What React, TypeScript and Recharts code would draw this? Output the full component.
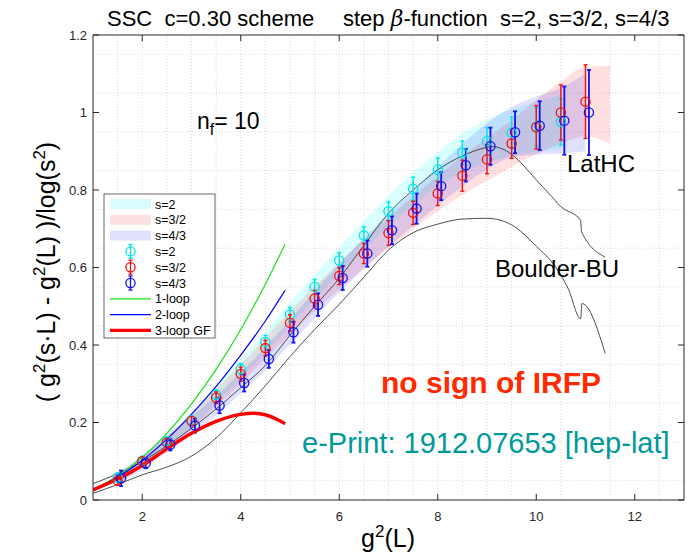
import React from 'react';
import { ComposedChart, Line, Area, Scatter, ErrorBar, XAxis, YAxis, CartesianGrid } from 'recharts';

// ---------- data ----------
const bandX = [1.5, 2, 2.5, 3, 3.5, 4, 4.5, 5, 5.5, 6, 6.5, 7, 7.5, 8, 8.5, 9, 9.5, 10, 10.5, 11, 11.5];
const bandS2Lo = [0.046, 0.086, 0.134, 0.186, 0.25, 0.313, 0.381, 0.449, 0.518, 0.583, 0.646, 0.705, 0.761, 0.808, 0.846, 0.871, 0.888, 0.898, 0.906];
const bandS2Hi = [0.07, 0.116, 0.17, 0.226, 0.294, 0.363, 0.435, 0.509, 0.582, 0.653, 0.72, 0.785, 0.845, 0.898, 0.946, 0.981, 1.008, 1.028, 1.046];
const bandS32Lo = [0.038, 0.085, 0.13, 0.184, 0.242, 0.3, 0.365, 0.427, 0.488, 0.543, 0.599, 0.649, 0.699, 0.746, 0.787, 0.824, 0.86, 0.892, 0.92, 0.938, 0.92];
const bandS32Hi = [0.062, 0.115, 0.166, 0.224, 0.286, 0.35, 0.419, 0.487, 0.552, 0.613, 0.673, 0.729, 0.783, 0.836, 0.887, 0.934, 0.98, 1.032, 1.08, 1.118, 1.12];
const bandS43Lo = [0.042, 0.078, 0.123, 0.17, 0.219, 0.275, 0.334, 0.401, 0.469, 0.536, 0.596, 0.654, 0.707, 0.76, 0.809, 0.853, 0.884, 0.891, 0.894, 0.9];
const bandS43Hi = [0.07, 0.112, 0.163, 0.214, 0.269, 0.329, 0.394, 0.465, 0.539, 0.61, 0.676, 0.738, 0.797, 0.86, 0.919, 0.973, 1.014, 1.041, 1.064, 1.1];

const ptS2X = [1.5, 2, 2.5, 3, 3.5, 4, 4.5, 5, 5.5, 6, 6.5, 7, 7.5, 8, 8.5, 9, 9.5, 10, 10.5];
const ptS2Y = [0.058, 0.101, 0.152, 0.206, 0.272, 0.338, 0.408, 0.479, 0.55, 0.618, 0.683, 0.745, 0.803, 0.853, 0.896, 0.926, 0.948, 0.963, 0.976];
const ptS2E = [0.012, 0.01, 0.01, 0.01, 0.012, 0.014, 0.017, 0.018, 0.019, 0.02, 0.022, 0.024, 0.03, 0.03, 0.03, 0.035, 0.04, 0.05, 0.06];

const ptS32X = [1.5, 2, 2.5, 3, 3.5, 4, 4.5, 5, 5.5, 6, 6.5, 7, 7.5, 8, 8.5, 9, 9.5, 10, 10.5, 11];
const ptS32Y = [0.05, 0.1, 0.148, 0.204, 0.264, 0.325, 0.392, 0.457, 0.52, 0.578, 0.636, 0.689, 0.741, 0.791, 0.837, 0.879, 0.92, 0.962, 1.0, 1.028];
const ptS32E = [0.012, 0.01, 0.011, 0.012, 0.015, 0.018, 0.02, 0.021, 0.021, 0.022, 0.026, 0.032, 0.03, 0.031, 0.04, 0.037, 0.038, 0.056, 0.071, 0.095];

const ptS43X = [1.57, 2.07, 2.57, 3.07, 3.57, 4.07, 4.57, 5.07, 5.57, 6.07, 6.57, 7.07, 7.57, 8.07, 8.57, 9.07, 9.57, 10.07, 10.57, 11.07];
const ptS43Y = [0.056, 0.095, 0.143, 0.192, 0.244, 0.302, 0.364, 0.433, 0.504, 0.573, 0.636, 0.696, 0.752, 0.81, 0.864, 0.913, 0.949, 0.966, 0.979, 1.0];
const ptS43E = [0.02, 0.013, 0.015, 0.018, 0.02, 0.022, 0.023, 0.027, 0.029, 0.031, 0.034, 0.036, 0.039, 0.036, 0.042, 0.048, 0.054, 0.063, 0.088, 0.11];

const loopX = [1, 1.5, 2, 2.5, 3, 3.5, 4, 4.5, 4.9];
const oneLoopY = [0.027, 0.062, 0.11, 0.172, 0.248, 0.337, 0.44, 0.557, 0.66];
const twoLoopY = [0.026, 0.059, 0.102, 0.157, 0.221, 0.293, 0.374, 0.462, 0.541];
const threeLoopX = [1, 1.5, 2, 2.5, 3, 3.5, 4, 4.25, 4.5, 4.75, 4.9];
const threeLoopY = [0.026, 0.054, 0.089, 0.132, 0.172, 0.203, 0.221, 0.224, 0.22, 0.207, 0.197];

const latX = [1, 1.5, 2, 2.5, 3, 3.5, 4, 4.5, 5, 5.5, 6, 6.5, 7, 7.5, 8, 8.5, 9, 9.1, 9.5, 9.75, 10, 10.25, 10.5, 10.9, 10.92, 11.4];
const latY = [0.042, 0.068, 0.1, 0.14, 0.185, 0.235, 0.29, 0.347, 0.425, 0.5, 0.572, 0.657, 0.74, 0.8, 0.852, 0.888, 0.91, 0.912, 0.892, 0.862, 0.826, 0.792, 0.757, 0.722, 0.692, 0.627];
const bouX = [1, 1.5, 2, 2.5, 3, 3.5, 4, 4.5, 5, 5.5, 6, 6.5, 7, 7.5, 8, 8.5, 9, 9.5, 10, 10.4, 10.65, 10.9, 10.93, 11.4];
const bouY = [0.017, 0.04, 0.065, 0.085, 0.113, 0.16, 0.225, 0.295, 0.37, 0.44, 0.505, 0.575, 0.645, 0.69, 0.712, 0.725, 0.727, 0.71, 0.655, 0.6, 0.545, 0.468, 0.507, 0.378];

const xTicks = [2, 4, 6, 8, 10, 12];
const yTicks = [0, 0.2, 0.4, 0.6, 0.8, 1, 1.2];

// ---------- helpers ----------
const pairs = (xs: number[], ys: number[]) => xs.map((x, i) => ({ x, y: ys[i] }));
const pts = (xs: number[], ys: number[], es: number[]) => xs.map((x, i) => ({ x, y: ys[i], e: es[i] }));
const bandRows = bandX.map((x, i) => ({
  x,
  s2: i < bandS2Lo.length ? [bandS2Lo[i], bandS2Hi[i]] : undefined,
  s32: i < bandS32Lo.length ? [bandS32Lo[i], bandS32Hi[i]] : undefined,
  s43: i < bandS43Lo.length ? [bandS43Lo[i], bandS43Hi[i]] : undefined,
}));

const xMinor = Array.from({ length: 23 }, (_, i) => 1.5 + i * 0.5);
const yMinor = Array.from({ length: 23 }, (_, i) => Math.round((0.05 + i * 0.05) * 1000) / 1000);

const C_CYAN = '#00e4e4';
const C_RED = '#f01010';
const C_BLUE = '#1010f0';
const C_GREEN = '#18e018';

const ring = (color: string) => (p: any) => (
  <circle cx={p.cx} cy={p.cy} r={4.6} fill="none" stroke={color} strokeWidth={1.3} />
);

const AX = '#262626';
const tickStyle = { fontSize: 13, fill: AX };

export default function App() {
  const legendRows = [
    { kind: 'band', color: '#d9fcfc', label: 's=2' },
    { kind: 'band', color: '#fde0e0', label: 's=3/2' },
    { kind: 'band', color: '#e1e1fb', label: 's=4/3' },
    { kind: 'pt', color: C_CYAN, label: 's=2' },
    { kind: 'pt', color: C_RED, label: 's=3/2' },
    { kind: 'pt', color: C_BLUE, label: 's=4/3' },
    { kind: 'line', color: C_GREEN, w: 1.2, label: '1-loop' },
    { kind: 'line', color: '#0000ff', w: 1.2, label: '2-loop' },
    { kind: 'line', color: '#ff0000', w: 3.2, label: '3-loop GF' },
  ];
  return (
    <div style={{ position: 'absolute', left: 0, top: 0, width: 695, height: 560, background: '#fff', fontFamily: '"Liberation Sans", Arial, Helvetica, sans-serif' }}>
      <ComposedChart width={695} height={560} data={bandRows} margin={{ top: 34, right: 10, bottom: 30, left: 53 }}>
        <CartesianGrid verticalValues={xMinor} horizontalValues={yMinor} stroke="#cfcfcf" strokeDasharray="1 2" strokeWidth={0.8} />
        <XAxis type="number" dataKey="x" domain={[1, 13]} ticks={xTicks} allowDataOverflow height={30}
          tickSize={-6} tickMargin={18} tick={tickStyle} stroke={AX} tickLine={{ stroke: AX }} axisLine={{ stroke: AX }} />
        <XAxis xAxisId="top" orientation="top" type="number" dataKey="x" domain={[1, 13]} ticks={xTicks} allowDataOverflow height={1}
          tickSize={-6} tickFormatter={() => ''} stroke={AX} />
        <YAxis type="number" domain={[0, 1.2]} ticks={yTicks} allowDataOverflow width={40}
          tickSize={-6} tickMargin={12} tick={tickStyle} stroke={AX} />
        <YAxis yAxisId="right" orientation="right" type="number" domain={[0, 1.2]} ticks={yTicks} allowDataOverflow width={1}
          tickSize={-6} tickFormatter={() => ''} stroke={AX} />

        <Area dataKey="s2" type="monotone" fill="#00ffff" fillOpacity={0.15} stroke="none" isAnimationActive={false} />
        <Area dataKey="s32" type="monotone" fill="#ff0000" fillOpacity={0.12} stroke="none" isAnimationActive={false} />
        <Area dataKey="s43" type="monotone" fill="#0000ff" fillOpacity={0.12} stroke="none" isAnimationActive={false} />

        <Line data={pairs(latX, latY)} dataKey="y" type="monotone" stroke="#3a3a3a" strokeWidth={0.9} dot={false} activeDot={false} isAnimationActive={false} />
        <Line data={pairs(bouX, bouY)} dataKey="y" type="monotone" stroke="#3a3a3a" strokeWidth={0.9} dot={false} activeDot={false} isAnimationActive={false} />

        <Scatter data={pts(ptS2X, ptS2Y, ptS2E)} dataKey="y" shape={ring(C_CYAN)} isAnimationActive={false}>
          <ErrorBar dataKey="e" direction="y" width={2} stroke={C_CYAN} strokeWidth={1.4} />
        </Scatter>
        <Scatter data={pts(ptS32X, ptS32Y, ptS32E)} dataKey="y" shape={ring(C_RED)} isAnimationActive={false}>
          <ErrorBar dataKey="e" direction="y" width={2} stroke={C_RED} strokeWidth={1.4} />
        </Scatter>
        <Scatter data={pts(ptS43X, ptS43Y, ptS43E)} dataKey="y" shape={ring(C_BLUE)} isAnimationActive={false}>
          <ErrorBar dataKey="e" direction="y" width={2} stroke={C_BLUE} strokeWidth={1.8} />
        </Scatter>

        <Line data={pairs(loopX, oneLoopY)} dataKey="y" type="monotone" stroke={C_GREEN} strokeWidth={1.2} dot={false} activeDot={false} isAnimationActive={false} />
        <Line data={pairs(loopX, twoLoopY)} dataKey="y" type="monotone" stroke="#0000ff" strokeWidth={1.2} dot={false} activeDot={false} isAnimationActive={false} />
        <Line data={pairs(threeLoopX, threeLoopY)} dataKey="y" type="monotone" stroke="#ff0000" strokeWidth={3.4} dot={false} activeDot={false} isAnimationActive={false} />
      </ComposedChart>

      <svg width={695} height={560} style={{ position: 'absolute', left: 0, top: 0, pointerEvents: 'none' }}>
        {/* title */}
        <text x={107} y={26} fontSize={22} fill="#000" xmlSpace="preserve">SSC  c=0.30 scheme</text>
        <text x={343} y={26} fontSize={22} fill="#000" xmlSpace="preserve">
          step <tspan fontStyle="italic" fontFamily="'DejaVu Serif', serif">β</tspan>-function  s=2, s=3/2, s=4/3
        </text>

        {/* axis labels */}
        <text x={388} y={547} fontSize={25} fill="#000" textAnchor="middle">
          g<tspan dy={-10} fontSize={17}>2</tspan><tspan dy={10}>(L)</tspan>
        </text>
        <text transform="translate(55,272) rotate(-90)" fontSize={25} fill="#000" textAnchor="middle" xmlSpace="preserve">
          ( g<tspan dy={-10} fontSize={17}>2</tspan><tspan dy={10}>(s·L) - g</tspan><tspan dy={-10} fontSize={17}>2</tspan><tspan dy={10}>(L) )/log(s</tspan><tspan dy={-10} fontSize={17}>2</tspan><tspan dy={10}>)</tspan>
        </text>

        {/* annotations */}
        <text x={197} y={129} fontSize={23} fill="#000">
          n<tspan dy={6} fontSize={16}>f</tspan><tspan dy={-6}>= 10</tspan>
        </text>
        <text x={567} y={172} fontSize={24} fill="#000">LatHC</text>
        <text x={495} y={277} fontSize={24} fill="#000">Boulder-BU</text>
        <text x={381} y={393} fontSize={30} fontWeight="bold" fill="#ff2a00">no sign of IRFP</text>
        <text x={302} y={453} fontSize={29} fill="#00999a">e-Print: 1912.07653 [hep-lat]</text>

        {/* legend */}
        <rect x={104} y={194} width={111} height={144} fill="#fff" stroke={AX} strokeWidth={0.7} />
        {legendRows.map((r: any, i) => {
          const cy = 204 + i * 15.8;
          return (
            <g key={i}>
              {r.kind === 'band' && <rect x={110} y={cy - 5} width={41} height={10} fill={r.color} />}
              {r.kind === 'pt' && (
                <g stroke={r.color} strokeWidth={1.3} fill="none">
                  <line x1={130.5} x2={130.5} y1={cy - 7} y2={cy + 7} />
                  <line x1={128.5} x2={132.5} y1={cy - 7} y2={cy - 7} />
                  <line x1={128.5} x2={132.5} y1={cy + 7} y2={cy + 7} />
                  <circle cx={130.5} cy={cy} r={4.6} />
                </g>
              )}
              {r.kind === 'line' && <line x1={110} x2={151} y1={cy} y2={cy} stroke={r.color} strokeWidth={r.w} />}
              <text x={155} y={cy + 4.5} fontSize={12.5} fill="#000">{r.label}</text>
            </g>
          );
        })}
      </svg>
    </div>
  );
}
